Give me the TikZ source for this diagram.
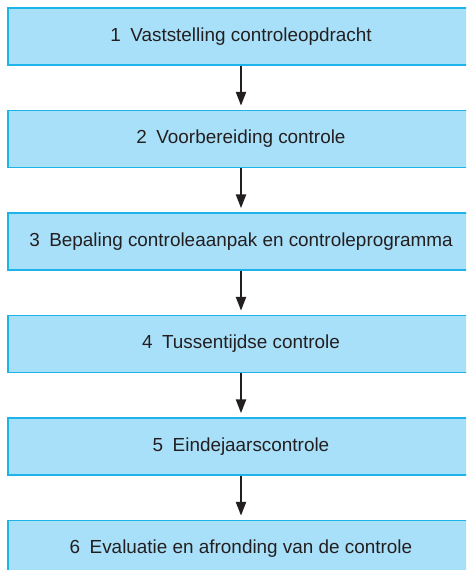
\documentclass[tikz,border=0pt]{standalone}
\usepackage{fontspec}
\setmainfont{Liberation Sans}
\usetikzlibrary{arrows.meta,positioning}
\definecolor{boxfill}{HTML}{A9E0F9}
\definecolor{boxline}{HTML}{1DB4EA}
\definecolor{txtgray}{HTML}{231F20}
\begin{document}
\begin{tikzpicture}[x=1pt,y=1pt]
	\useasboundingbox (0,0) rectangle (466,-570);
	\clip (0,0) rectangle (466,-570);

	\begin{scope}[every node/.style={rectangle,draw=boxline,fill=boxfill,line width=1.5pt,
			minimum width=466pt,minimum height=57pt,text=txtgray,
			font=\fontsize{18.9}{22}\selectfont},node distance=44pt]
		\node (S1) at (241,-36.5) {1\hspace{0.5em}Vaststelling controleopdracht};
		\node (S2) [below=of S1] {2\hspace{0.5em}Voorbereiding controle};
		\node (S3) [below=of S2] {3\hspace{0.5em}Bepaling controleaanpak en controleprogramma};
		\node (S4) [below=of S3] {4\hspace{0.5em}Tussentijdse controle};
		\node (S5) [below=of S4] {5\hspace{0.5em}Eindejaarscontrole};
		\node (S6) [below=of S5] {6\hspace{0.5em}Evaluatie en afronding van de controle};
	\end{scope}

	\begin{scope}[>={Triangle[length=14pt,width=10pt]},line width=2.5pt,draw=txtgray]
		\draw[->,shorten >=4pt] (S1) -- (S2);
		\draw[->,shorten >=4pt] (S2) -- (S3);
		\draw[->,shorten >=4pt] (S3) -- (S4);
		\draw[->,shorten >=4pt] (S4) -- (S5);
		\draw[->,shorten >=4pt] (S5) -- (S6);
	\end{scope}
\end{tikzpicture}
\end{document}
